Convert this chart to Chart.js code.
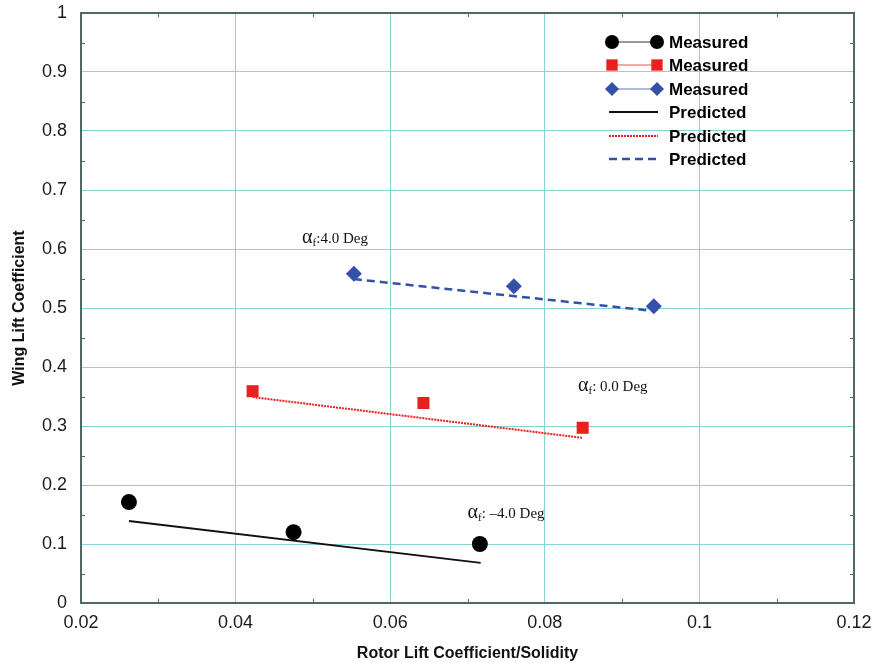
<!DOCTYPE html>
<html>
<head>
<meta charset="utf-8">
<script src="https://cdn.jsdelivr.net/npm/chart.js@4.4.1/dist/chart.umd.min.js"></script>
<style>
  html, body { margin: 0; padding: 0; background: #fff; }
  #wrap { width: 881px; height: 663px; position: relative; }
</style>
</head>
<body>
<div id="wrap"><canvas id="chart" width="881" height="663"></canvas></div>
<script>
// ─── DATA ────────────────────────────────────────────────────
const measNeg4X = [0.0262, 0.0475, 0.0716];
const measNeg4Y = [0.171, 0.120, 0.100];
const measZeroX = [0.0422, 0.0643, 0.0849];
const measZeroY = [0.359, 0.339, 0.297];
const measPos4X = [0.0553, 0.0760, 0.0941];
const measPos4Y = [0.558, 0.537, 0.503];

const predNeg4X = [0.0262, 0.0717];
const predNeg4Y = [0.139, 0.068];
const predZeroX = [0.0422, 0.0848];
const predZeroY = [0.349, 0.280];
const predPos4X = [0.0553, 0.0941];
const predPos4Y = [0.549, 0.495];

const legendLabels = ['Measured', 'Measured', 'Measured', 'Predicted', 'Predicted', 'Predicted'];
const notes = [
    { x: 0.0486, y: 0.610, text: ':4.0 Deg' },
    { x: 0.0843, y: 0.359, text: ': 0.0 Deg' },
    { x: 0.0700, y: 0.144, text: ': \u20134.0 Deg' }
];

const pts = (xs, ys) => xs.map((x, i) => ({ x, y: ys[i] }));

// ─── STYLES ──────────────────────────────────────────────────
const GRID = '#86d3d8';
const AXIS = '#506868';

const datasets = [
    { data: pts(measNeg4X, measNeg4Y), showLine: false, pointStyle: 'circle', pointRadius: 8,
      backgroundColor: '#000', borderColor: '#000', borderWidth: 0 },
    { data: pts(measZeroX, measZeroY), showLine: false, pointStyle: 'rect', pointRadius: 8.5,
      backgroundColor: '#e8201e', borderColor: '#e8201e', borderWidth: 0 },
    { data: pts(measPos4X, measPos4Y), showLine: false, pointStyle: 'rectRot', pointRadius: 8,
      backgroundColor: '#3550a8', borderColor: '#3550a8', borderWidth: 0 },
    { data: pts(predNeg4X, predNeg4Y), showLine: true, pointRadius: 0, borderColor: '#111', borderWidth: 2 },
    { data: pts(predZeroX, predZeroY), showLine: true, pointRadius: 0, borderColor: '#e8201e', borderWidth: 2,
      borderDash: [2, 1] },
    { data: pts(predPos4X, predPos4Y), showLine: true, pointRadius: 0, borderColor: '#3550a8', borderWidth: 2.5,
      borderDash: [8, 5] }
];

const isMajor = (v, step) => Math.abs(Math.round(v / step) * step - v) < 1e-9;
const fmt = v => String(Number(v.toFixed(2)));

// ─── PLUGIN: frame, minor ticks, legend, notes ───────────────
const decor = {
    id: 'decor',
    beforeDatasetsDraw(chart) {
        const { ctx, chartArea: a, scales: { x, y } } = chart;
        ctx.save();
        // frame on all four sides
        ctx.strokeStyle = AXIS;
        ctx.lineWidth = 2;
        ctx.strokeRect(a.left, a.top, a.right - a.left, a.bottom - a.top);
        // minor ticks inside the frame
        ctx.lineWidth = 1;
        for (let v = 0.03; v < 0.12; v += 0.02) {
            const px = Math.round(x.getPixelForValue(v)) + 0.5;
            ctx.beginPath();
            ctx.moveTo(px, a.bottom); ctx.lineTo(px, a.bottom - 4);
            ctx.moveTo(px, a.top); ctx.lineTo(px, a.top + 4);
            ctx.stroke();
        }
        for (let v = 0.05; v < 1; v += 0.1) {
            const py = Math.round(y.getPixelForValue(v)) + 0.5;
            ctx.beginPath();
            ctx.moveTo(a.left, py); ctx.lineTo(a.left + 4, py);
            ctx.moveTo(a.right, py); ctx.lineTo(a.right - 4, py);
            ctx.stroke();
        }
        ctx.restore();
    },
    afterDatasetsDraw(chart) {
        const { ctx, scales: { x, y } } = chart;
        ctx.save();
        // legend
        const x0 = 612, x1 = 657, tx = 669;
        const rows = [42, 65, 89, 112, 136, 159];
        rows.forEach((ry, i) => {
            const ds = datasets[i];
            ctx.beginPath();
            if (i < 3) {
                ctx.strokeStyle = ds.backgroundColor;
                ctx.globalAlpha = 0.8;
                ctx.lineWidth = 1;
                ctx.setLineDash([]);
                ctx.moveTo(x0, ry); ctx.lineTo(x1, ry); ctx.stroke();
                ctx.globalAlpha = 1;
                ctx.fillStyle = ds.backgroundColor;
                [x0, x1].forEach(mx => Chart.helpers.drawPoint(ctx, {
                    pointStyle: ds.pointStyle, radius: ds.pointStyle === 'rect' ? 8 : 7, rotation: 0, borderWidth: 0
                }, mx, ry));
            } else {
                ctx.strokeStyle = ds.borderColor;
                ctx.lineWidth = ds.borderWidth;
                ctx.setLineDash(ds.borderDash || []);
                ctx.moveTo(x0 - 3, ry); ctx.lineTo(x1 + 1, ry); ctx.stroke();
                ctx.setLineDash([]);
            }
            ctx.font = 'bold 17px "Liberation Sans", Arial, sans-serif';
            ctx.fillStyle = '#000';
            ctx.textBaseline = 'middle';
            ctx.textAlign = 'left';
            ctx.fillText(legendLabels[i], tx, ry + 1);
        });

        // alpha_f notes
        ctx.fillStyle = '#111';
        ctx.textBaseline = 'alphabetic';
        notes.forEach(n => {
            let px = x.getPixelForValue(n.x);
            const py = y.getPixelForValue(n.y);
            ctx.font = '20px "Liberation Serif", "DejaVu Serif", serif';
            ctx.fillText('\u03b1', px, py);
            px += ctx.measureText('\u03b1').width;
            ctx.font = '11px "Liberation Serif", serif';
            ctx.fillText('f', px, py + 3);
            px += ctx.measureText('f').width;
            ctx.font = '15px "Liberation Serif", "DejaVu Serif", serif';
            ctx.fillText(n.text, px, py);
        });
        ctx.restore();
    }
};

// ─── CHART ───────────────────────────────────────────────────
new Chart(document.getElementById('chart'), {
    type: 'scatter',
    data: { datasets },
    plugins: [decor],
    options: {
        responsive: false,
        animation: false,
        layout: { padding: { top: 13, right: 27, left: 0, bottom: 0 } },
        plugins: { legend: { display: false }, tooltip: { enabled: false } },
        scales: {
            x: {
                type: 'linear', min: 0.02, max: 0.12,
                afterFit: s => { s.height = 60; s.paddingLeft = 0; s.paddingRight = 0; },
                ticks: {
                    stepSize: 0.01, autoSkip: false, maxRotation: 0, padding: 9,
                    color: '#1a1a1a', font: { size: 18, family: '"Liberation Sans", Arial, sans-serif' },
                    callback: v => isMajor(v, 0.02) ? fmt(v) : ''
                },
                grid: {
                    drawTicks: false,
                    color: c => (c.tick && isMajor(c.tick.value, 0.02)) ? GRID : 'rgba(0,0,0,0)',
                    lineWidth: 1
                },
                border: { color: AXIS, width: 2 },
                title: {
                    display: true, text: 'Rotor Lift Coefficient/Solidity', color: '#111',
                    font: { size: 16, weight: 'bold', family: '"Liberation Sans", Arial, sans-serif' },
                    padding: { top: 4, bottom: 0 }
                }
            },
            y: {
                type: 'linear', min: 0, max: 1,
                afterFit: s => { s.width = 81; s.paddingTop = 0; s.paddingBottom = 0; },
                ticks: {
                    stepSize: 0.05, autoSkip: false, padding: 14,
                    color: '#1a1a1a', font: { size: 18, family: '"Liberation Sans", Arial, sans-serif' },
                    callback: v => isMajor(v, 0.1) ? fmt(v) : ''
                },
                grid: {
                    drawTicks: false,
                    color: c => (c.tick && isMajor(c.tick.value, 0.1)) ? GRID : 'rgba(0,0,0,0)',
                    lineWidth: 1
                },
                border: { color: AXIS, width: 2 },
                title: {
                    display: true, text: 'Wing Lift Coefficient', color: '#111',
                    font: { size: 16, weight: 'bold', family: '"Liberation Sans", Arial, sans-serif' },
                    padding: { top: 10, bottom: 0 }
                }
            }
        }
    }
});
</script>
</body>
</html>
